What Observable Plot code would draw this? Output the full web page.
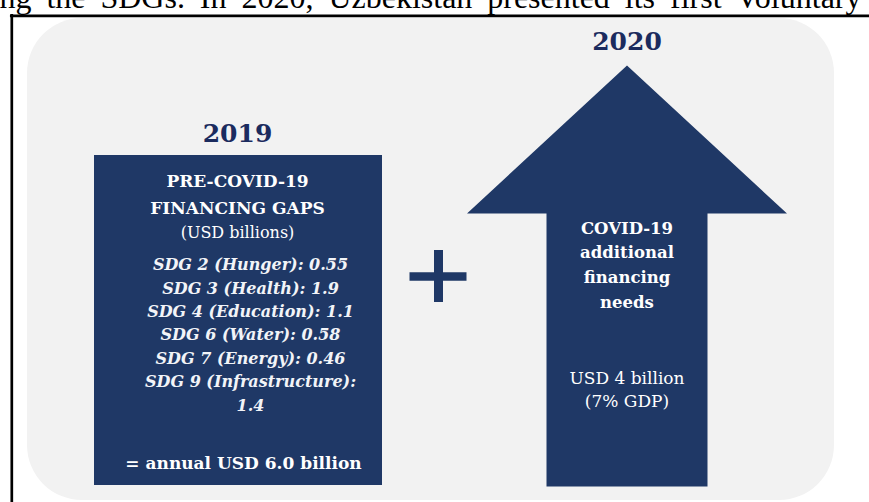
<!DOCTYPE html>
<html><head><meta charset="utf-8">
<script src="https://cdn.jsdelivr.net/npm/d3@7"></script>
<script src="https://cdn.jsdelivr.net/npm/@observablehq/plot@0.6"></script>
<style>
html,body{margin:0;padding:0;background:#fff;overflow:hidden;}
#chart svg{display:block;}
</style></head><body><div id="chart"></div>
<script>
// ---- data ----
const introText = "ng the SDGs. In 2020, Uzbekistan presented its first Voluntary";
const years = ["2019", "2020"];
const gapTitle = ["PRE-COVID-19", "FINANCING GAPS"];
const gapUnit = "(USD billions)";
const sdgGoals = ["SDG 2 (Hunger)", "SDG 3 (Health)", "SDG 4 (Education)", "SDG 6 (Water)", "SDG 7 (Energy)", "SDG 9 (Infrastructure)"];
const sdgGaps = [0.55, 1.9, 1.1, 0.58, 0.46, 1.4];
const covidTitle = ["COVID-19", "additional", "financing", "needs"];
const covidNeedUSDbn = [4];
const covidNeedGDPpct = [7];

// ---- layout (pixel geometry, separate from data) ----
const W = 869, H = 502;
const frame = {x: 11.3, y: 15.3, w: 2.7};
const panel = {x1: 27, x2: 834, y1: 18, y2: 500, r: 55};
const box = {x1: 94, x2: 382, y1: 155, y2: 485, cx: 237, listX: 250};
const arrow = {cx: 626.5, tipY: 65, headY: 213, headHalf: 160, shaftHalf: 80.5, bottom: 486};
const plus = {cx: 438, cy: 276, halfW: 28.5, halfH: 26, t: 8.5};
const intro = {size: 32, baseline: 7, right: 861};

const navy = "#1f3866", titleNavy = "#1b2b5e", panelGray = "#f2f2f2";
const serif = "DejaVu Serif";

// ---- derived ----
const sdgLines = sdgGoals.flatMap((g, i) => {
  const s = `${g}: ${sdgGaps[i]}`;
  return s.length > 24 ? [`${g}:`, `${sdgGaps[i]}`] : [s];
});
const total = d3.sum(sdgGaps).toFixed(1);
const totalLine = `= annual USD ${total} billion`;
const covidLines = [`USD ${covidNeedUSDbn[0]} billion`, `(${covidNeedGDPpct[0]}% GDP)`];

const arrowPts = [
  [arrow.cx, arrow.tipY],
  [arrow.cx + arrow.headHalf, arrow.headY],
  [arrow.cx + arrow.shaftHalf, arrow.headY],
  [arrow.cx + arrow.shaftHalf, arrow.bottom],
  [arrow.cx - arrow.shaftHalf, arrow.bottom],
  [arrow.cx - arrow.shaftHalf, arrow.headY],
  [arrow.cx - arrow.headHalf, arrow.headY]
];

const lineText = (lines, x, y0, step, o) =>
  Plot.text(lines, {x: () => x, y: (d, i) => y0 + i * step, text: d => d, textAnchor: "middle", fontFamily: serif, ...o});

const chart = Plot.plot({
  width: W, height: H,
  margin: 0,
  x: {domain: [0, W], range: [0, W], axis: null},
  y: {domain: [0, H], range: [0, H], axis: null},
  style: {background: "#fff", overflow: "visible"},
  marks: [
    Plot.rect([panel], {x1: "x1", x2: "x2", y1: "y1", y2: "y2", fill: panelGray, rx: panel.r}),
    Plot.ruleY([frame.y], {x1: frame.x - frame.w / 2, x2: W + 5, stroke: "#000", strokeWidth: frame.w}),
    Plot.ruleX([frame.x], {y1: frame.y - frame.w / 2, y2: H + 5, stroke: "#000", strokeWidth: frame.w}),
    Plot.text([introText], {x: () => -1, y: () => intro.baseline - 0.32 * intro.size, text: d => d, textAnchor: "start", fontFamily: "Liberation Serif", fontSize: intro.size, fill: "#000"}),
    // 2019 box
    Plot.rect([box], {x1: "x1", x2: "x2", y1: "y1", y2: "y2", fill: navy}),
    // arrow
    Plot.line(arrowPts, {x: d => d[0], y: d => d[1], fill: navy, stroke: "none", curve: "linear-closed"}),
    // plus
    Plot.ruleY([plus.cy], {x1: plus.cx - plus.halfW, x2: plus.cx + plus.halfW, stroke: navy, strokeWidth: plus.t}),
    Plot.ruleX([plus.cx], {y1: plus.cy - plus.halfH, y2: plus.cy + plus.halfH, stroke: navy, strokeWidth: plus.t + 0.5}),
    // year labels
    lineText([years[0]], box.cx, 133, 0, {fontSize: 25, fontWeight: "bold", fill: titleNavy}),
    lineText([years[1]], arrow.cx, 41, 0, {fontSize: 25, fontWeight: "bold", fill: titleNavy}),
    // box text
    lineText(gapTitle, box.cx, 181, 27, {fontSize: 17, fontWeight: "bold", fill: "#fff"}),
    lineText([gapUnit], box.cx, 232, 0, {fontSize: 16, fill: "#fff"}),
    lineText(sdgLines, box.listX, 264.5, 23.4, {fontSize: 16, fontStyle: "italic", fontWeight: "bold", fill: "#f2f4f8"}),
    lineText([totalLine], 243, 463, 0, {fontSize: 17, fontWeight: "bold", fill: "#fff"}),
    // arrow text
    lineText(covidTitle, arrow.cx, 228, 24.7, {fontSize: 16.5, fontWeight: "bold", fill: "#fff"}),
    lineText(covidLines, arrow.cx, 378, 23, {fontSize: 17, fill: "#fff"})
  ]
});
document.getElementById("chart").append(chart);

// justify the cut-off intro line like the source paragraph
const introEl = Array.from(chart.querySelectorAll("text")).find(t => t.textContent === introText);
if (introEl) {
  const len = introEl.getComputedTextLength();
  const gaps = introText.split(" ").length - 1;
  const extra = Math.max(0, (intro.right + 1 - len) / gaps);
  introEl.style.wordSpacing = extra + "px";
}
</script>
</body></html>
